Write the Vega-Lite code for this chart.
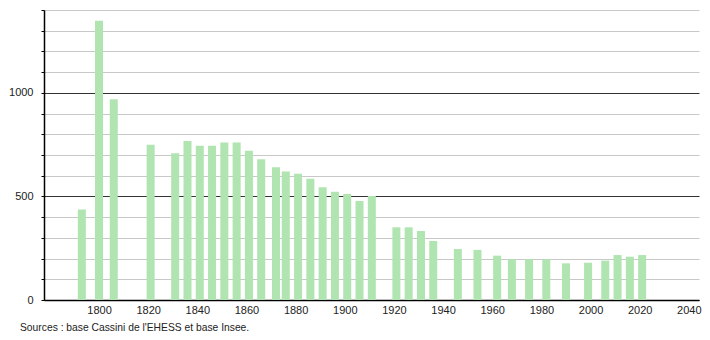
{
  "$schema": "https://vega.github.io/schema/vega-lite/v6.json",
  "width": 655,
  "height": 290,
  "autosize": {"type": "none"},
  "padding": {"left": 44, "top": 10, "right": 11, "bottom": 40},
  "background": "white",
  "config": {"view": {"stroke": null}, "font": "Liberation Sans"},
  "title": {
    "text": "Sources : base Cassini de l'EHESS et base Insee.",
    "orient": "bottom",
    "anchor": "start",
    "frame": "group",
    "dx": -24,
    "offset": 8,
    "fontSize": 10.3,
    "fontWeight": "normal",
    "color": "#222",
    "font": "Liberation Sans"
  },
  "data": {
    "values": [
      {"year": 1793, "pop": 437},
      {"year": 1800, "pop": 1348},
      {"year": 1806, "pop": 969},
      {"year": 1821, "pop": 749},
      {"year": 1831, "pop": 709},
      {"year": 1836, "pop": 768},
      {"year": 1841, "pop": 745},
      {"year": 1846, "pop": 745},
      {"year": 1851, "pop": 760},
      {"year": 1856, "pop": 760},
      {"year": 1861, "pop": 720},
      {"year": 1866, "pop": 680},
      {"year": 1872, "pop": 641},
      {"year": 1876, "pop": 620},
      {"year": 1881, "pop": 609},
      {"year": 1886, "pop": 585},
      {"year": 1891, "pop": 544},
      {"year": 1896, "pop": 523},
      {"year": 1901, "pop": 512},
      {"year": 1906, "pop": 478},
      {"year": 1911, "pop": 502},
      {"year": 1921, "pop": 351},
      {"year": 1926, "pop": 351},
      {"year": 1931, "pop": 333},
      {"year": 1936, "pop": 285},
      {"year": 1946, "pop": 246},
      {"year": 1954, "pop": 242},
      {"year": 1962, "pop": 214},
      {"year": 1968, "pop": 197},
      {"year": 1975, "pop": 197},
      {"year": 1982, "pop": 197},
      {"year": 1990, "pop": 177},
      {"year": 1999, "pop": 180},
      {"year": 2006, "pop": 190},
      {"year": 2011, "pop": 217},
      {"year": 2016, "pop": 209},
      {"year": 2021, "pop": 217}
    ]
  },
  "mark": {"type": "bar", "size": 8, "color": "#b0e4b0"},
  "encoding": {
    "x": {
      "field": "year",
      "type": "quantitative",
      "scale": {"domain": [1779.65, 2042.1], "nice": false, "zero": false},
      "axis": {
        "title": null,
        "values": [1800, 1820, 1840, 1860, 1880, 1900, 1920, 1940, 1960, 1980, 2000, 2020, 2040],
        "format": "d",
        "ticks": false,
        "grid": false,
        "domainColor": "#000",
        "domainWidth": 1.5,
        "labelPadding": 4,
        "labelFontSize": 11,
        "labelColor": "#222",
        "labelFont": "Liberation Sans"
      }
    },
    "y": {
      "field": "pop",
      "type": "quantitative",
      "scale": {"domain": [0, 1400], "nice": false},
      "axis": {
        "title": null,
        "values": [0, 100, 200, 300, 400, 500, 600, 700, 800, 900, 1000, 1100, 1200, 1300, 1400],
        "labelExpr": "datum.value % 500 === 0 ? datum.label : ''",
        "format": "d",
        "grid": true,
        "gridColor": {"condition": {"test": "datum.value % 500 === 0", "value": "#333"}, "value": "#c8c8c8"},
        "gridWidth": 1,
        "tickSize": 3,
        "tickColor": "#000",
        "domainColor": "#000",
        "domainWidth": 1.5,
        "labelPadding": 8,
        "labelFontSize": 11,
        "labelColor": "#222",
        "labelFont": "Liberation Sans"
      }
    }
  }
}
